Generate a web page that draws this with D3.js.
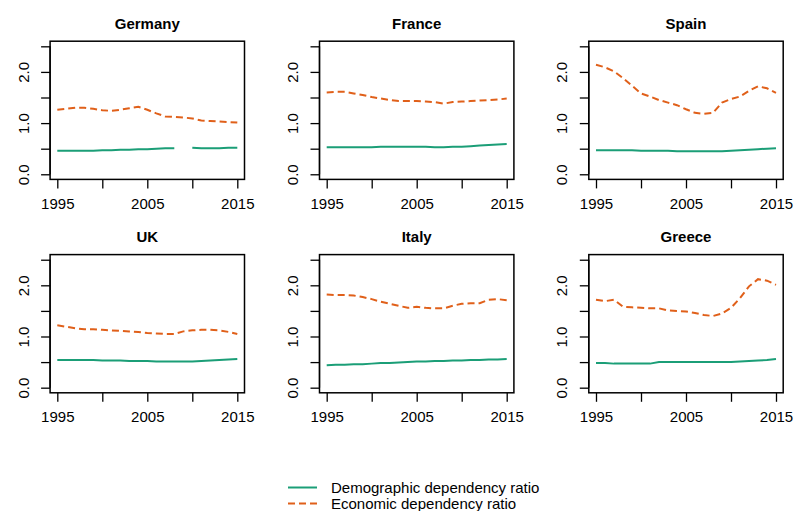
<!DOCTYPE html>
<html>
<head>
<meta charset="utf-8">
<script src="https://cdn.jsdelivr.net/npm/d3@7"></script>
<style>
body { margin: 0; background: #fff; }
svg { display: block; font-family: "Liberation Sans", Arial, sans-serif; }
</style>
</head>
<body>
<svg id="chart" width="794" height="511"></svg>
<script>
var years = d3.range(1995, 2016);
var countries = ["Germany", "France", "Spain", "UK", "Italy", "Greece"];
var xTicks = [1995, 2000, 2005, 2010, 2015];
var xLabels = [1995, 2005, 2015];
var yTicks = [0, 0.5, 1, 1.5, 2, 2.5];
var yLabels = [0, 1, 2];
var legendLabels = ["Demographic dependency ratio", "Economic dependency ratio"];

// demographic dependency ratio, 1995..2015
var demGermany = [0.46, 0.46, 0.46, 0.46, 0.46, 0.47, 0.47, 0.48, 0.48, 0.49, 0.49, 0.50, 0.51, 0.51, null, 0.52, 0.51, 0.51, 0.51, 0.52, 0.52];
var demFrance = [0.53, 0.53, 0.53, 0.53, 0.53, 0.53, 0.54, 0.54, 0.54, 0.54, 0.54, 0.54, 0.53, 0.53, 0.54, 0.54, 0.55, 0.56, 0.57, 0.58, 0.59];
var demSpain = [0.47, 0.47, 0.47, 0.47, 0.47, 0.46, 0.46, 0.46, 0.46, 0.45, 0.45, 0.45, 0.45, 0.45, 0.45, 0.46, 0.47, 0.48, 0.49, 0.50, 0.51];
var demUK = [0.54, 0.54, 0.54, 0.54, 0.54, 0.53, 0.53, 0.53, 0.52, 0.52, 0.52, 0.51, 0.51, 0.51, 0.51, 0.51, 0.52, 0.53, 0.54, 0.55, 0.56];
var demItaly = [0.44, 0.45, 0.45, 0.46, 0.46, 0.47, 0.48, 0.48, 0.49, 0.50, 0.51, 0.51, 0.52, 0.52, 0.53, 0.53, 0.54, 0.54, 0.55, 0.55, 0.56];
var demGreece = [0.48, 0.48, 0.47, 0.47, 0.47, 0.47, 0.47, 0.50, 0.50, 0.50, 0.50, 0.50, 0.50, 0.50, 0.50, 0.50, 0.51, 0.52, 0.53, 0.54, 0.56];

// economic dependency ratio, 1995..2015
var ecoGermany = [1.26, 1.28, 1.30, 1.30, 1.28, 1.25, 1.24, 1.26, 1.29, 1.32, 1.26, 1.19, 1.13, 1.12, 1.11, 1.09, 1.05, 1.04, 1.03, 1.02, 1.01];
var ecoFrance = [1.60, 1.61, 1.61, 1.58, 1.55, 1.51, 1.48, 1.45, 1.43, 1.43, 1.43, 1.42, 1.41, 1.38, 1.41, 1.42, 1.43, 1.44, 1.45, 1.46, 1.48];
var ecoSpain = [2.14, 2.09, 2.01, 1.88, 1.73, 1.58, 1.52, 1.45, 1.40, 1.35, 1.27, 1.20, 1.18, 1.20, 1.40, 1.47, 1.52, 1.63, 1.72, 1.68, 1.59];
var ecoUK = [1.22, 1.19, 1.16, 1.14, 1.14, 1.13, 1.12, 1.11, 1.10, 1.09, 1.07, 1.06, 1.05, 1.05, 1.10, 1.12, 1.13, 1.13, 1.12, 1.09, 1.05];
var ecoItaly = [1.82, 1.81, 1.81, 1.80, 1.77, 1.73, 1.68, 1.64, 1.60, 1.56, 1.58, 1.56, 1.55, 1.55, 1.60, 1.64, 1.65, 1.65, 1.72, 1.73, 1.71];
var ecoGreece = [1.72, 1.69, 1.72, 1.58, 1.57, 1.56, 1.55, 1.55, 1.51, 1.50, 1.49, 1.46, 1.42, 1.40, 1.45, 1.56, 1.75, 1.98, 2.12, 2.09, 2.01];

var demSeries = [demGermany, demFrance, demSpain, demUK, demItaly, demGreece];
var ecoSeries = [ecoGermany, ecoFrance, ecoSpain, ecoUK, ecoItaly, ecoGreece];

var green = "#1b9e77";
var orange = "#e0601a";

var svg = d3.select("#chart");
var colX = [0, 269.4, 538.7];
var rowY = [0, 213.4];

countries.forEach(function (name, i) {
    var col = i % 3, row = Math.floor(i / 3);
    var g = svg.append("g").attr("transform", "translate(" + colX[col] + "," + rowY[row] + ")");

    var x = d3.scaleLinear().domain([1994.2, 2015.8]).range([50.1, 244.5]);
    var y = d3.scaleLinear().domain([-0.1, 2.6]).range([179.4, 41.2]);

    g.append("text")
        .attr("x", (x.range()[0] + x.range()[1]) / 2)
        .attr("y", 29)
        .attr("text-anchor", "middle")
        .attr("font-weight", "bold")
        .attr("font-size", 15)
        .text(name);

    var xAxis = g.append("g")
        .attr("transform", "translate(0," + y.range()[0] + ")")
        .call(d3.axisBottom(x)
            .tickValues(xTicks)
            .tickSize(9)
            .tickPadding(10)
            .tickFormat(function (d) { return xLabels.indexOf(d) >= 0 ? d : ""; }));
    xAxis.select(".domain").remove();
    xAxis.selectAll("line").attr("stroke", "#000").attr("stroke-width", 1.3);
    xAxis.selectAll("text").attr("font-size", 15).attr("fill", "#000").attr("font-family", null);

    var yAxis = g.append("g")
        .attr("transform", "translate(" + x.range()[0] + ",0)")
        .call(d3.axisLeft(y)
            .tickValues(yTicks)
            .tickSize(9)
            .tickFormat(function (d) { return yLabels.indexOf(d) >= 0 ? d3.format(".1f")(d) : ""; }));
    yAxis.select(".domain").remove();
    yAxis.selectAll("line").attr("stroke", "#000").attr("stroke-width", 1.3);
    yAxis.selectAll("text")
        .attr("font-size", 15)
        .attr("fill", "#000")
        .attr("font-family", null)
        .attr("x", null)
        .attr("dy", null)
        .attr("text-anchor", "middle")
        .attr("dominant-baseline", "central")
        .attr("transform", "translate(-27,0) rotate(-90)");

    // y axis line spans the ticks, box around plot region
    g.append("line")
        .attr("x1", x.range()[0]).attr("x2", x.range()[0])
        .attr("y1", y(0)).attr("y2", y(2.5))
        .attr("stroke", "#000").attr("stroke-width", 1.3);
    g.append("rect")
        .attr("x", x.range()[0])
        .attr("y", y.range()[1])
        .attr("width", x.range()[1] - x.range()[0])
        .attr("height", y.range()[0] - y.range()[1])
        .attr("fill", "none")
        .attr("stroke", "#000")
        .attr("stroke-width", 1.5);

    var line = d3.line()
        .defined(function (d) { return d != null; })
        .x(function (d, j) { return x(years[j]); })
        .y(function (d) { return y(d); });

    g.append("path")
        .datum(demSeries[i])
        .attr("d", line)
        .attr("fill", "none")
        .attr("stroke", green)
        .attr("stroke-width", 2);

    g.append("path")
        .datum(ecoSeries[i])
        .attr("d", line)
        .attr("fill", "none")
        .attr("stroke", orange)
        .attr("stroke-width", 2)
        .attr("stroke-dasharray", "7,4");
});

// legend
var legend = svg.append("g");
var legendColors = [green, orange];
var legendDash = [null, "7,4"];
legendLabels.forEach(function (lab, k) {
    var ly = 487.5 + k * 16;
    legend.append("line")
        .attr("x1", 288).attr("x2", 317)
        .attr("y1", ly).attr("y2", ly)
        .attr("stroke", legendColors[k])
        .attr("stroke-width", 2)
        .attr("stroke-dasharray", legendDash[k]);
    legend.append("text")
        .attr("x", 331)
        .attr("y", ly + 5)
        .attr("font-size", 15)
        .text(lab);
});
</script>
</body>
</html>
